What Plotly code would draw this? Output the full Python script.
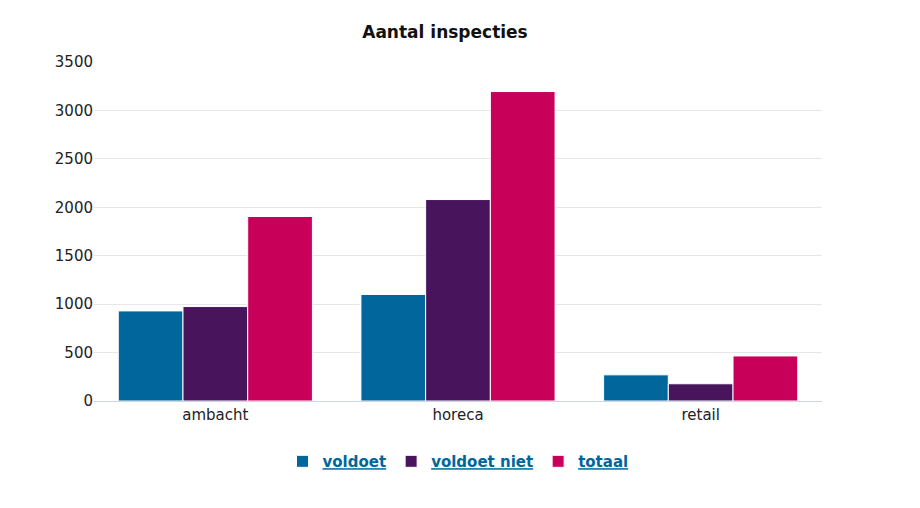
import plotly.graph_objects as go

categories = ["ambacht", "horeca", "retail"]
voldoet = [930, 1100, 270]
voldoet_niet = [975, 2080, 178]
totaal = [1905, 3195, 465]
series = [("voldoet", voldoet, "#00669c"), ("voldoet niet", voldoet_niet, "#48155c"), ("totaal", totaal, "#c8005a")]

fig = go.Figure()
for name, vals, col in series:
    fig.add_trace(go.Bar(x=categories, y=vals, name=f"<b><u>{name}</u></b>", marker=dict(color=col, line=dict(color="white", width=1))))

fig.update_layout(
    width=920, height=508, paper_bgcolor="white", plot_bgcolor="white",
    font=dict(family="DejaVu Sans", size=15, color="#222"),
    title=dict(text="<b>Aantal inspecties</b>", x=0.475, xanchor="center", y=0.965, font=dict(size=17, color="#111")),
    margin=dict(l=86, r=106, t=54, b=115),
    barmode="group", bargap=0.2, bargroupgap=0,
    xaxis=dict(showline=True, linecolor="#ccd6eb", ticks="", tickfont=dict(size=15)),
    yaxis=dict(range=[0, 3500], dtick=500, gridcolor="#e6e6e6", zeroline=False, tickfont=dict(size=15)),
    legend=dict(orientation="h", x=0.5, xanchor="center", y=-0.13, yanchor="top", font=dict(size=15, color="#00669c")),
)
fig.write_html("out.html")
